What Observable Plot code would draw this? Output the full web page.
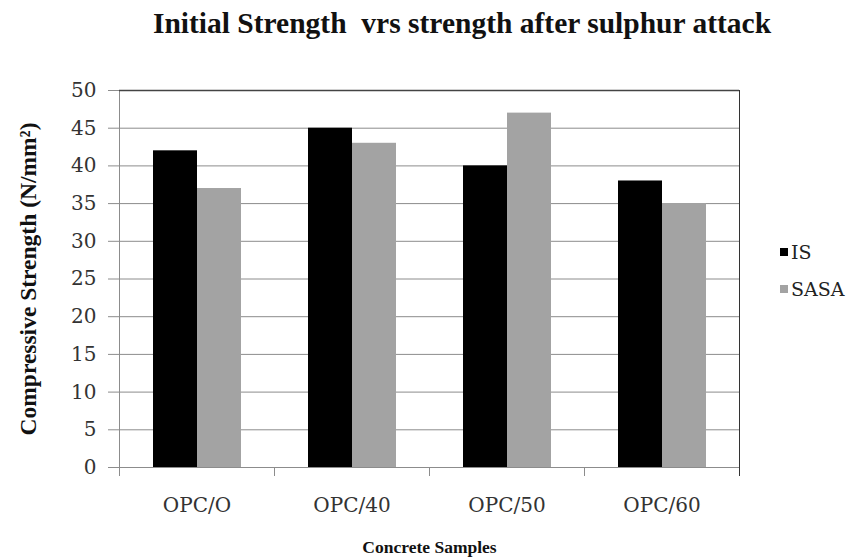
<!DOCTYPE html>
<html>
<head>
<meta charset="utf-8">
<script src="https://cdn.jsdelivr.net/npm/d3@7"></script>
<script src="https://cdn.jsdelivr.net/npm/@observablehq/plot@0.6"></script>
<style>
  html, body { margin: 0; padding: 0; background: #fff; }
  #wrap { position: relative; width: 861px; height: 559px; font-family: "Liberation Serif", "Times New Roman", serif; }
  #title { position: absolute; left: 0; top: 8px; width: 924px; line-height: 30px; text-align: center; font-weight: bold; font-size: 29.5px; color: #111; white-space: pre; }
  #legend { position: absolute; left: 780px; top: 233px; font-family: "DejaVu Serif", serif; font-size: 19px; color: #222; }
  #legend div { display: flex; align-items: center; height: 37px; }
  #legend span.sw { display: inline-block; width: 8px; height: 8px; margin-right: 3px; }
  svg g[aria-label="y-axis label"], svg g[aria-label="fx-axis label"] { font-weight: bold; font-family: "Liberation Serif", serif; fill: #111; }
  svg g[aria-label="y-axis label"] { font-size: 23.5px; }
  svg g[aria-label="fx-axis label"] { font-size: 17.5px; }
</style>
</head>
<body>
<div id="wrap">
  <div id="chart"></div>
  <div id="title"></div>
  <div id="legend"></div>
</div>
<script>
const titleText = "Initial Strength  vrs strength after sulphur attack";
const categories = ["OPC/O", "OPC/40", "OPC/50", "OPC/60"];
const series = ["IS", "SASA"];
const isValues = [42, 45, 40, 38];
const sasaValues = [37, 43, 47, 35];
const yTicks = [0, 5, 10, 15, 20, 25, 30, 35, 40, 45, 50];
const colors = ["#000000", "#a3a3a3"];
const yLabel = "Compressive Strength (N/mm²)";
const xLabel = "Concrete Samples";

const data = [];
categories.forEach((c, i) => {
  data.push({sample: c, series: "IS", value: isValues[i]});
  data.push({sample: c, series: "SASA", value: sasaValues[i]});
});

const chart = Plot.plot({
  width: 861,
  height: 559,
  marginLeft: 119,
  marginRight: 122,
  marginTop: 90,
  marginBottom: 92,
  style: {fontFamily: "'DejaVu Serif', serif", fontSize: "20px", color: "#333", background: "#fff"},
  fx: {domain: categories, padding: 0},
  x: {domain: series, paddingInner: 0, paddingOuter: 0.76, axis: null},
  y: {domain: [0, 50]},
  color: {domain: series, range: colors},
  marks: [
    Plot.gridY(yTicks, {stroke: "#8c8c8c", strokeOpacity: 1}),
    Plot.frame({anchor: "left", insetTop: 377, insetBottom: -8, stroke: "#8c8c8c"}),
    Plot.barY(data, {fx: "sample", x: "series", y: "value", fill: "series"}),
    Plot.frame({anchor: "left", fx: () => categories[0], stroke: "#8c8c8c", insetBottom: -8}),
    Plot.frame({anchor: "right", fx: () => categories[categories.length - 1], stroke: "#333", insetBottom: -8}),
    Plot.ruleY([50], {stroke: "#444", strokeWidth: 1.5}),
    Plot.axisY({ticks: yTicks, tickSize: 11, tickPadding: 12, stroke: "#8c8c8c", label: yLabel, labelAnchor: "center", labelArrow: "none", labelOffset: 100}),
    Plot.axisFx({anchor: "bottom", tickSize: 0, tickPadding: 30, label: xLabel, labelAnchor: "center", labelArrow: "none", labelOffset: 85})
  ]
});
document.getElementById("chart").appendChild(chart);
document.getElementById("title").textContent = titleText;

const legend = document.getElementById("legend");
series.forEach((s, i) => {
  const row = document.createElement("div");
  const sw = document.createElement("span");
  sw.className = "sw";
  sw.style.background = colors[i];
  row.appendChild(sw);
  row.appendChild(document.createTextNode(s));
  legend.appendChild(row);
});
</script>
</body>
</html>
